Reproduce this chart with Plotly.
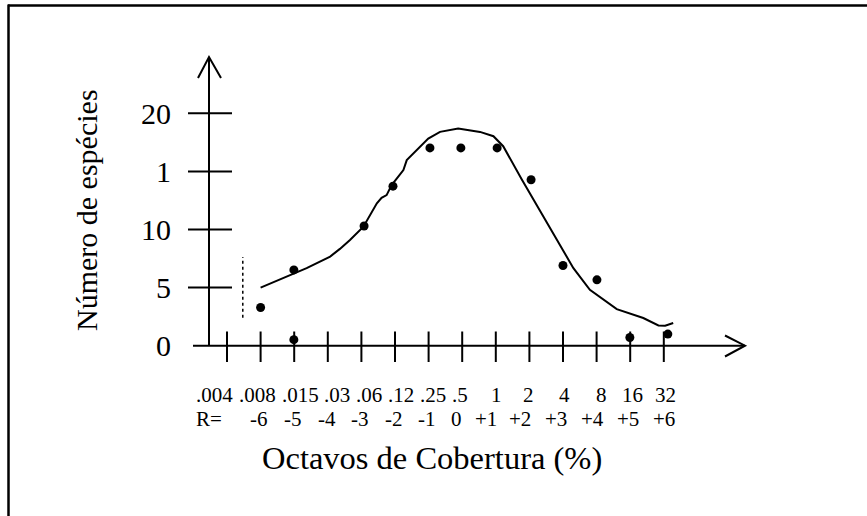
import plotly.graph_objects as go

# ---------------- data ----------------
cover_labels = [".004", ".008", ".015", ".03", ".06", ".12", ".25", ".5", "1", "2", "4", "8", "16", "32"]
r_labels = ["R=", "-6", "-5", "-4", "-3", "-2", "-1", "0", "+1", "+2", "+3", "+4", "+5", "+6"]
y_tick_values = [0, 5, 10, 15, 20]
y_tick_labels = ["0", "5", "10", "1", "20"]

# observed species counts (x = octave index, 0 = .004)
obs_x = [1.0, 1.99, 1.99, 4.08, 4.94, 6.04, 6.96, 8.04, 9.05, 10.0, 11.01, 11.99, 13.12]
obs_y = [3.29, 0.52, 6.52, 10.3, 13.73, 17.02, 17.02, 17.02, 14.28, 6.9, 5.67, 0.71, 1.0]

# fitted (hand-drawn) curve
curve_x = [1.0, 1.97, 2.37, 3.07, 3.36, 3.66, 4.06, 4.46, 4.60, 4.75, 4.90, 5.25, 5.35,
           5.99, 6.34, 6.88, 7.53, 7.93, 8.22, 8.77, 9.41, 10.11, 10.31, 10.80, 11.60,
           12.39, 12.84, 13.04, 13.28]
curve_y = [5.0, 6.18, 6.67, 7.67, 8.33, 9.10, 10.24, 12.25, 12.73, 12.96, 13.82, 15.11, 15.97,
           17.83, 18.40, 18.69, 18.40, 18.03, 17.17, 14.33, 11.10, 7.67, 6.67, 4.81, 3.15,
           2.38, 1.74, 1.72, 1.95]

# dotted veil line
veil_x = [0.47, 0.47]
veil_y = [2.4, 7.64]

# ---------------- layout constants ----------------
W, H = 867, 516
X0_PX, DX_PX = 227.0, 33.6      # pixel of index 0, pixels per octave
Y0_PX, DY_PX = 345.7, 11.62     # pixel of value 0, pixels per unit
x_range = [-X0_PX / DX_PX, (W - X0_PX) / DX_PX]
y_range = [-(H - Y0_PX) / DY_PX, Y0_PX / DY_PX]

def px_x(p):
    return (p - X0_PX) / DX_PX

def px_y(p):
    return (Y0_PX - p) / DY_PX

YAX_X = px_x(209)
FONT = "Liberation Serif, Times New Roman, serif"
BLACK = "#000000"

fig = go.Figure()

fig.add_trace(go.Scatter(x=curve_x, y=curve_y, mode="lines",
                         line=dict(color=BLACK, width=2), hoverinfo="skip"))
fig.add_trace(go.Scatter(x=obs_x, y=obs_y, mode="markers",
                         marker=dict(color=BLACK, size=9), hoverinfo="skip"))
fig.add_trace(go.Scatter(x=veil_x, y=veil_y, mode="lines",
                         line=dict(color=BLACK, width=1.5, dash="dot"), hoverinfo="skip"))

shapes = []
line = dict(color=BLACK, width=2)
# frame (top and left only)
shapes.append(dict(type="line", xref="paper", yref="paper", x0=8 / W, x1=1, y0=1 - 5.5 / H, y1=1 - 5.5 / H,
                   line=dict(color=BLACK, width=2.5)))
shapes.append(dict(type="line", xref="paper", yref="paper", x0=8.5 / W, x1=8.5 / W, y0=0, y1=1 - 4.5 / H,
                   line=dict(color=BLACK, width=2.5)))
# y axis
shapes.append(dict(type="line", xref="x", yref="y", x0=YAX_X, x1=YAX_X, y0=0, y1=px_y(57), line=line))
shapes.append(dict(type="path", xref="x", yref="y",
                   path=f"M {px_x(198)},{px_y(78)} L {YAX_X},{px_y(57)} L {px_x(221)},{px_y(78)}", line=line))
for v in y_tick_values[1:]:
    shapes.append(dict(type="line", xref="x", yref="y", x0=px_x(188), x1=px_x(232), y0=v, y1=v, line=line))
# x axis
shapes.append(dict(type="line", xref="x", yref="y", x0=px_x(193), x1=px_x(745), y0=0, y1=0, line=line))
shapes.append(dict(type="path", xref="x", yref="y",
                   path=f"M {px_x(725)},{px_y(335.5)} L {px_x(745)},0 L {px_x(725)},{px_y(356.5)}", line=line))
for i in range(len(cover_labels)):
    shapes.append(dict(type="line", xref="x", yref="y", x0=i, x1=i, y0=px_y(331.5), y1=px_y(362), line=line))

annotations = []
for v, t in zip(y_tick_values, y_tick_labels):
    annotations.append(dict(x=px_x(173), y=v, xref="x", yref="y", text=t, showarrow=False,
                            xanchor="right", yanchor="middle", font=dict(family=FONT, size=30, color=BLACK)))

top_shift = [-12.3, -3.3, 5.8, 9.5, 7.9, 6.3, 4.7, -2.2, 0.2, -1.4, 1.0, 4.4, 1.8, 1.2]
bot_shift = [-18.2, -1.6, -0.9, -1.1, -1.4, -1.5, -1.6, -6.2, -9.8, -9.4, -7.0, -4.6, -2.2, 0.2]
for i, t in enumerate(cover_labels):
    annotations.append(dict(x=i, y=px_y(395), xref="x", yref="y", text=t, showarrow=False,
                            xanchor="center", yanchor="middle", xshift=top_shift[i],
                            font=dict(family=FONT, size=21, color=BLACK)))
for i, t in enumerate(r_labels):
    annotations.append(dict(x=i, y=px_y(419), xref="x", yref="y", text=t, showarrow=False,
                            xanchor="center", yanchor="middle", xshift=bot_shift[i],
                            font=dict(family=FONT, size=21, color=BLACK)))

annotations.append(dict(x=px_x(432), y=px_y(458), xref="x", yref="y", text="Octavos de Cobertura (%)",
                        showarrow=False, xanchor="center", yanchor="middle",
                        font=dict(family=FONT, size=32.5, color=BLACK)))
annotations.append(dict(x=px_x(86), y=px_y(210), xref="x", yref="y", text="Número de espécies",
                        showarrow=False, xanchor="center", yanchor="middle", textangle=-90,
                        font=dict(family=FONT, size=30, color=BLACK)))

fig.update_layout(
    width=W, height=H, autosize=False,
    margin=dict(l=0, r=0, t=0, b=0),
    paper_bgcolor="white", plot_bgcolor="white",
    showlegend=False,
    xaxis=dict(range=x_range, visible=False, fixedrange=True),
    yaxis=dict(range=y_range, visible=False, fixedrange=True),
    shapes=shapes, annotations=annotations,
)

fig.write_html("out.html", config={"displayModeBar": False},
               post_script="document.body.style.margin='0';document.body.style.overflow='hidden';")
